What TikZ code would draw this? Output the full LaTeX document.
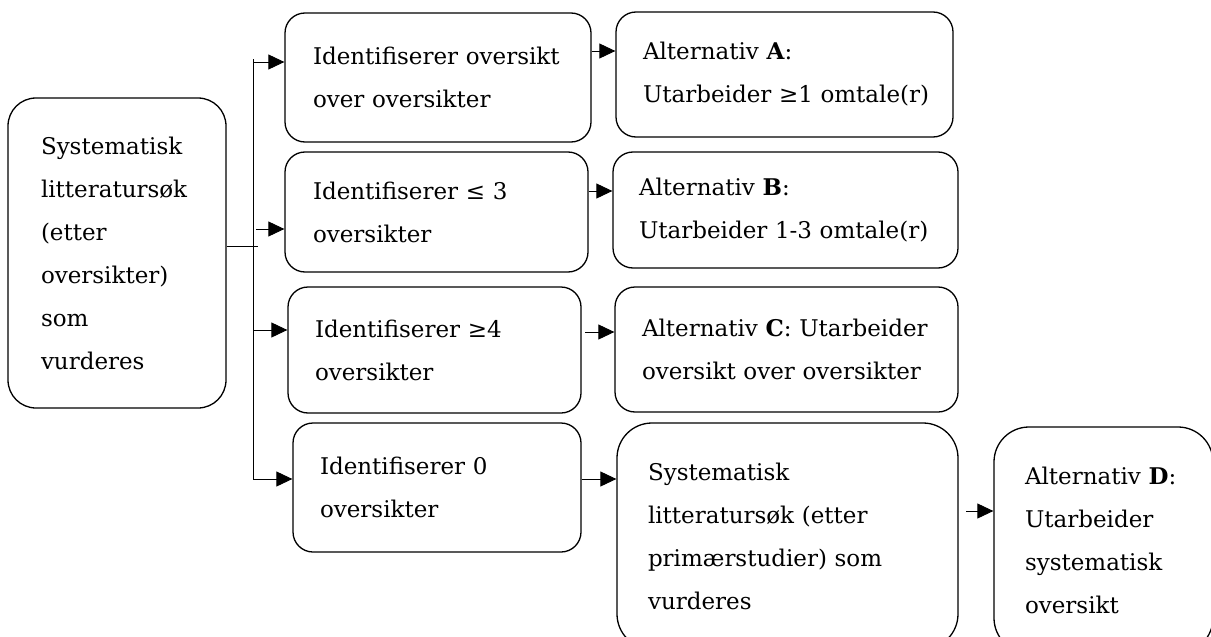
\documentclass[tikz,border=0pt]{standalone}
\usepackage{fontspec}
\setmainfont{DejaVu Serif}
\usetikzlibrary{arrows.meta}
\tikzset{
  box/.style={draw, line width=1.3pt, rounded corners=20pt, align=left, inner ysep=0pt,
    font=\fontsize{23}{43}\selectfont},
  arr/.style={-{Triangle[length=16pt,width=15pt]}, line width=0.9pt},
  ln/.style={line width=0.9pt}
}
\begin{document}
\begin{tikzpicture}[x=1pt,y=-1pt]
\useasboundingbox[fill=white] (0,0) rectangle (1211,637);
% boxes
\node[box, rounded corners=28pt, text width=152pt, inner xsep=33pt, minimum height=310pt] (L) at (117,253)
  {Systematisk\\ \mbox{litteraturs\o k}\\ (etter\\ oversikter)\\ som\\ vurderes};
\node[box, text width=250pt, inner xsep=28pt, minimum height=129pt] (b1) at (438,77.5)
  {\mbox{Identifiserer oversikt}\\ over oversikter};
\node[box, text width=247pt, inner xsep=28pt, minimum height=120pt] (b2) at (436.5,212)
  {Identifiserer ≤ 3\\ oversikter};
\node[box, text width=239pt, inner xsep=27pt, minimum height=126pt] (b3) at (434.5,350)
  {Identifiserer ≥4\\ oversikter};
\node[box, text width=234pt, inner xsep=27pt, minimum height=129pt] (b4) at (437,487.5)
  {Identifiserer 0\\ oversikter};
\node[box, text width=283pt, inner xsep=27pt, minimum height=125pt] (A) at (784.5,74.5)
  {Alternativ \textbf{A}:\\ \mbox{Utarbeider ≥1 omtale(r)}};
\node[box, text width=293pt, inner xsep=26pt, minimum height=116pt] (B) at (785.5,210)
  {Alternativ \textbf{B}:\\ \mbox{Utarbeider 1-3 omtale(r)}};
\node[box, text width=289pt, inner xsep=27pt, minimum height=125pt] (C) at (786.5,349.5)
  {\mbox{Alternativ \textbf{C}: Utarbeider}\\ \mbox{oversikt over oversikter}};
\node[box, rounded corners=35pt, text width=279pt, inner xsep=31pt, minimum height=226pt] (S) at (787.5,536)
  {Systematisk\\ \mbox{litteraturs\o k (etter}\\ \mbox{primærstudier) som}\\ vurderes};
\node[box, rounded corners=35pt, text width=157pt, inner xsep=31pt, minimum height=226pt] (D) at (1103.5,540)
  {Alternativ \textbf{D}:\\ Utarbeider\\ systematisk\\ oversikt};
% trunk
\coordinate (top) at (253,59);
\coordinate (bot) at (253,479);
\coordinate (j) at (258,246);
\draw[ln] (top) -- (bot);
\draw[ln] (j -| L.east) -- (j);
\coordinate (t1) at (253,62);
\coordinate (t2) at (256,229);
\coordinate (t3) at (253,330);
\coordinate (t4) at (253,479);
\draw[arr] (t1) -- (t1 -| b1.west);
\draw[arr] (t2) -- (t2 -| b2.west);
\draw[arr] (t3) -- (t3 -| b3.west);
\draw[arr] (t4) -- (t4 -| b4.west);
% right arrows
\coordinate (ra) at (0,51);
\coordinate (rb) at (0,191);
\coordinate (rc) at (585,332);
\coordinate (rs) at (0,479);
\coordinate (rd) at (966,511);
\draw[arr] (ra -| b1.east) -- (ra -| A.west);
\draw[arr] (rb -| b2.east) -- (rb -| B.west);
\draw[arr] (rc) -- (rc -| C.west);
\draw[arr] (rs -| b4.east) -- (rs -| S.west);
\draw[arr] (rd) -- (rd -| D.west);
\end{tikzpicture}
\end{document}
